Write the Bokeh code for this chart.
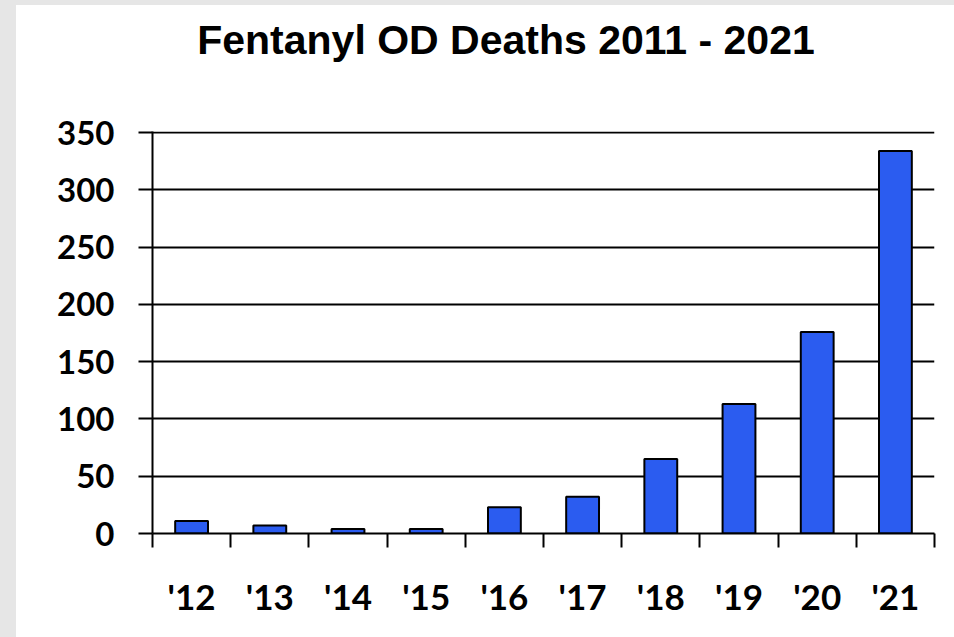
from bokeh.plotting import figure
from bokeh.layouts import column
from bokeh.models import Range1d, FixedTicker, Div
from bokeh.embed import file_html
from bokeh.resources import INLINE

# Fentanyl overdose deaths per year
title_text = "Fentanyl OD Deaths 2011 - 2021"
years = ["'12", "'13", "'14", "'15", "'16", "'17", "'18", "'19", "'20", "'21"]
deaths = [11, 7, 4, 4, 23, 32, 65, 113, 176, 334]
y_ticks = [0, 50, 100, 150, 200, 250, 300, 350]

n = len(years)
centers = [i + 0.5 for i in range(n)]      # bar positions
bounds = list(range(n + 1))                # tick marks between categories

BAR_BLUE = "#2B5CF0"
FRAME_GREY = "#e6e6e6"
LABEL_FONT = "Lato"
TITLE_FONT = "Liberation Sans"

# title strip above the chart
title_html = (
    f'<div style="font-family:\'{TITLE_FONT}\';font-weight:bold;font-size:41px;'
    'color:black;line-height:46px;padding-top:12px;padding-left:42px;'
    'width:938px;box-sizing:border-box;text-align:center;white-space:nowrap;">'
    f'{title_text}</div>'
)
title = Div(text=title_html, width=938, height=95, margin=(5, 0, 0, 16),
            styles={"background-color": "white"})

# a sliver of headroom above the top gridline keeps it fully visible
p = figure(
    width=938, height=537,
    x_range=Range1d(0, n), y_range=Range1d(0, y_ticks[-1] + 1),
    output_backend="svg", toolbar_location=None,
    min_border_left=136, min_border_right=20,
    min_border_top=31, min_border_bottom=104,
    background_fill_color="white", border_fill_color="white",
)
p.margin = (0, 0, 0, 16)
p.outline_line_color = None

p.vbar(x=centers, top=deaths, bottom=0, width=0.42,
       fill_color=BAR_BLUE, line_color="black", line_width=2)

# horizontal gridlines
p.xgrid.grid_line_color = None
p.ygrid.grid_line_color = "black"
p.ygrid.grid_line_width = 2
p.ygrid.grid_line_alpha = 1.0

# x axis: labels centred under bars, ticks on category boundaries
xa = p.xaxis[0]
xa.ticker = FixedTicker(ticks=centers, minor_ticks=bounds)
xa.major_label_overrides = {c: lab for c, lab in zip(centers, years)}
xa.axis_line_color = "black"
xa.axis_line_width = 2
xa.major_tick_line_color = None
xa.major_tick_out = 0
xa.major_tick_in = 0
xa.minor_tick_line_color = "black"
xa.minor_tick_line_width = 2
xa.minor_tick_out = 14
xa.minor_tick_in = 0
xa.major_label_standoff = 27
xa.major_label_text_font = LABEL_FONT
xa.major_label_text_font_style = "bold"
xa.major_label_text_font_size = "35px"
xa.major_label_text_color = "black"

# y axis
ya = p.yaxis[0]
ya.ticker = FixedTicker(ticks=y_ticks)
ya.axis_line_color = "black"
ya.axis_line_width = 2
ya.major_tick_line_color = "black"
ya.major_tick_line_width = 2
ya.major_tick_out = 14
ya.major_tick_in = 0
ya.minor_tick_line_color = None
ya.major_label_standoff = 24
ya.major_label_text_font = LABEL_FONT
ya.major_label_text_font_style = "bold"
ya.major_label_text_font_size = "33px"
ya.major_label_text_color = "black"

# white page with a thin grey band along the top and left edges
page = column(title, p, spacing=0,
              styles={"background-color": "white",
                      "box-shadow": f"inset 16px 5px 0 {FRAME_GREY}"})

open("out.html", "w").write(file_html(page, INLINE))
